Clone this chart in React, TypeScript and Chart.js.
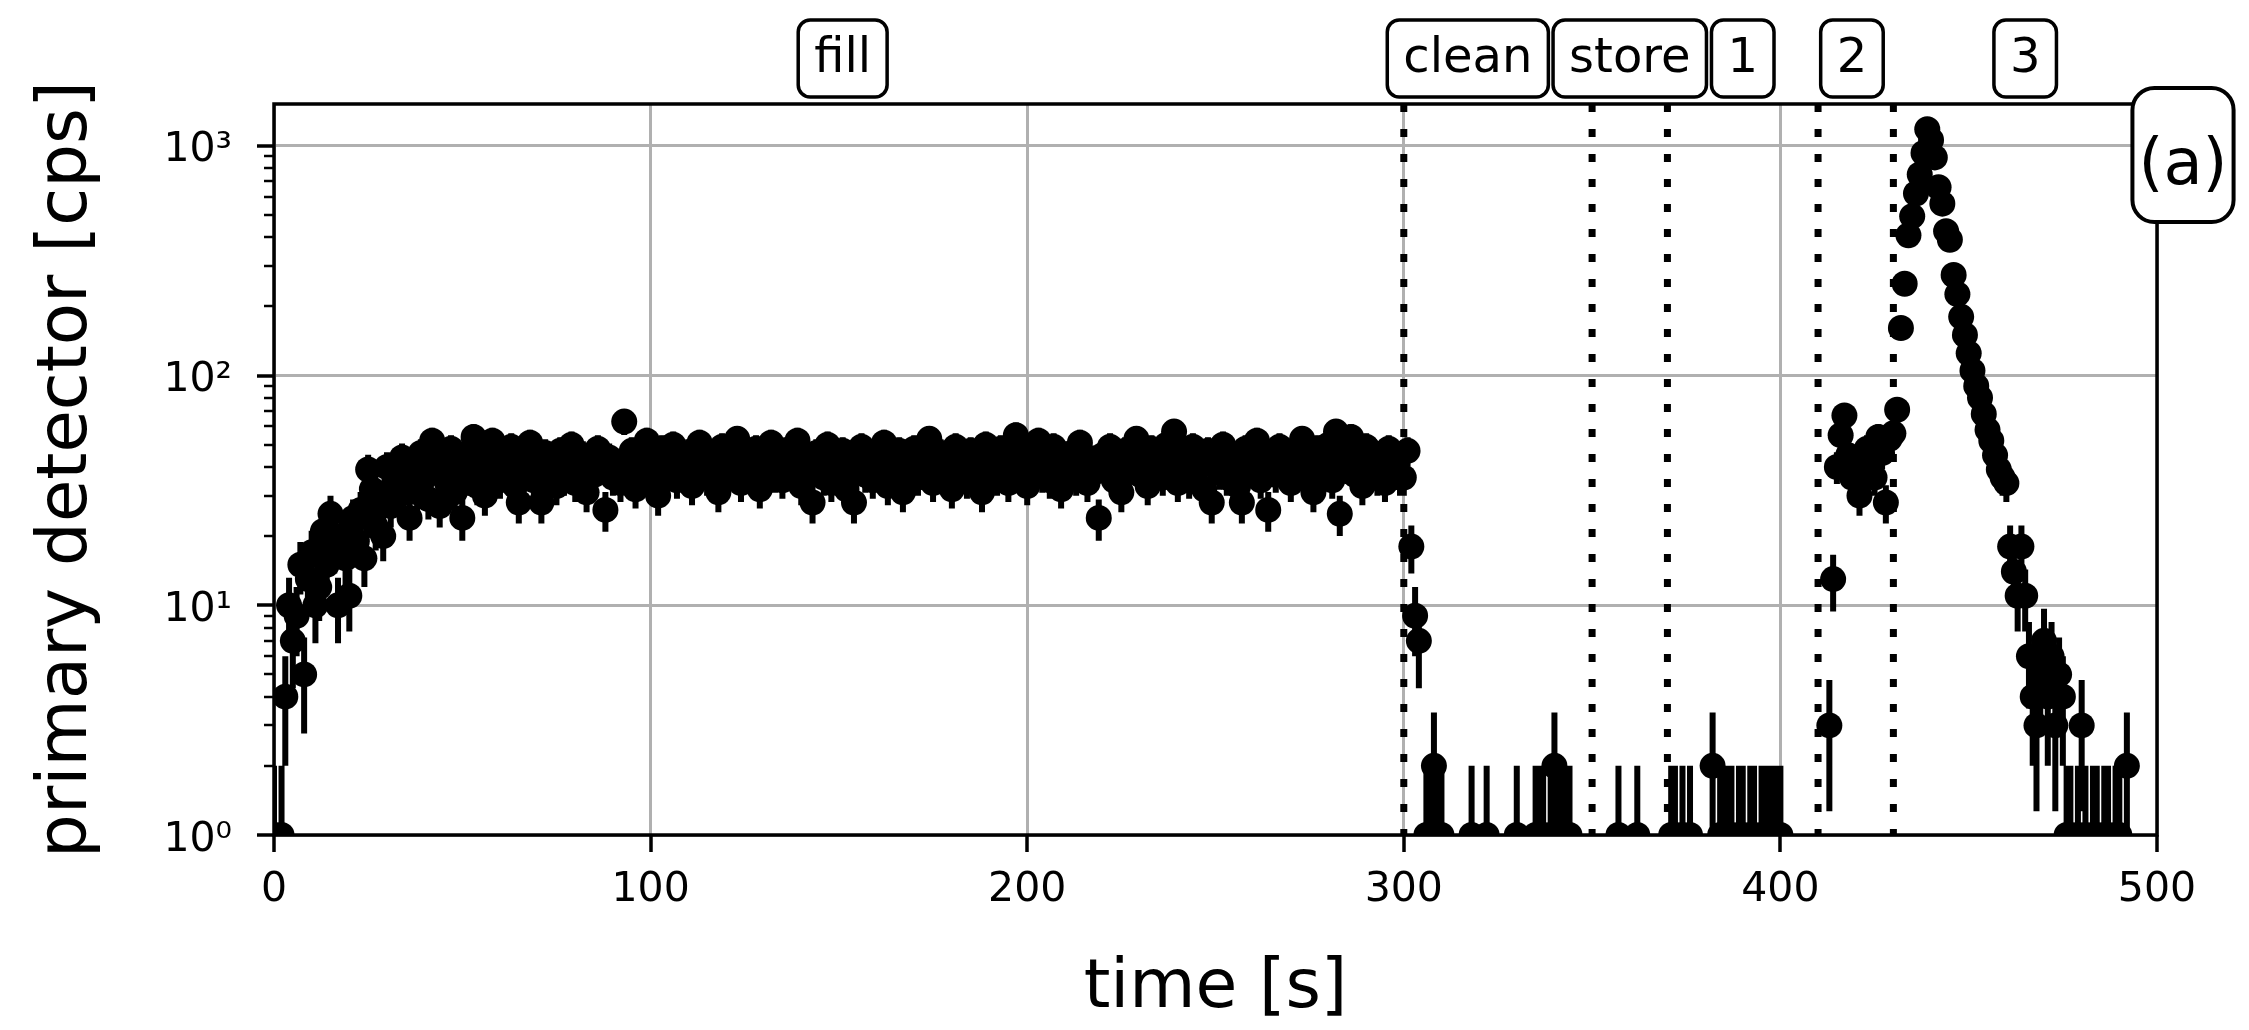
import React, { useEffect, useRef } from 'react';
import { Chart, registerables } from 'chart.js';

Chart.register(...registerables);

const FONT = "'DejaVu Sans', 'Liberation Sans', sans-serif";

// ---- data: counts per 1-s bin ----
const FILL_START = 0;
const FILL_COUNTS = [
  1, 0, 1, 4, 10, 7, 9, 15, 5, 13,
  17, 10, 12, 21, 15, 25, 18, 10, 20, 16,
  11, 24, 19, 26, 16, 39, 32, 22, 29, 20,
  40, 27, 35, 30, 44, 33, 24, 38, 31, 46,
  36, 29, 52, 40, 27, 43, 34, 48, 31, 39,
  24, 45, 36, 54, 33, 41, 30, 47, 52, 38,
  35, 42, 37, 49, 33, 28, 44, 39, 51, 35,
  40, 28, 46, 38, 42, 33, 47, 36, 41, 50,
  34, 39, 45, 31, 43, 37, 48, 40, 26, 44,
  36, 41, 34, 63, 38, 47, 32, 45, 39, 52,
  36, 43, 30, 48, 37, 41, 50, 35, 44, 39,
  46, 33, 42, 51, 38, 36, 45, 40, 31, 49,
  37, 43, 39, 53, 34, 46, 41, 36, 48, 32,
  44, 40, 51, 37, 43, 35, 47, 39, 42, 52,
  33, 45, 38, 28, 46, 41, 36, 50, 34, 43,
  39, 47, 32, 44, 28, 40, 49, 37, 42, 35,
  46, 39, 51, 33, 44, 38, 47, 31, 42, 40,
  48, 36, 45, 39, 53, 34, 41, 46, 37, 43,
  32, 49, 38, 42, 35, 47, 40, 44, 31, 50,
  39, 43, 36, 48, 41, 34, 46, 55, 38, 42,
  33, 47, 40, 52, 37, 44, 35, 49, 41, 32,
  45, 39, 46, 36, 51, 42, 34, 43, 38, 24,
  45, 40, 49, 35, 44, 31, 47, 39, 42, 53,
  37, 43, 33, 48, 40, 45, 36, 50, 38, 57,
  34, 46, 41, 35, 49, 39, 44, 32, 47, 28,
  42, 38, 50, 36, 45, 41, 33, 28, 48, 43,
  39, 52, 35, 46, 26, 42, 37, 49, 40, 44,
  34, 47, 39, 53, 36, 43, 31, 48, 41, 38,
  50, 35, 57, 25, 45, 40, 54, 37, 43, 33,
  49, 39, 46, 36, 42, 34, 48, 44, 38, 36,
];
const CLEAN_START = 300;
const CLEAN_COUNTS = [
  36, 47, 18, 9, 7, 0, 1, 1, 2, 1,
  1, 0, 0, 0, 0, 0, 0, 0, 1, 0,
  0, 0, 1, 0, 0, 0, 0, 0, 0, 0,
  1, 0, 0, 0, 0, 1, 1, 1, 0, 1,
  2, 1, 1, 1, 1, 0, 0, 0, 0, 0,
];
const STORE_START = 350;
const STORE_COUNTS = [
  0, 0, 0, 0, 0, 0, 0, 1, 0, 0,
  0, 0, 1, 0, 0, 0, 0, 0, 0, 0,
];
const PERIOD1_START = 370;
const PERIOD1_COUNTS = [
  0, 1, 1, 0, 1, 0, 1, 0, 0, 0,
  0, 0, 2, 0, 1, 1, 1, 1, 0, 1,
  1, 0, 1, 1, 0, 1, 1, 1, 1, 1,
  1, 0, 0, 0, 0, 0, 0, 0, 0, 0,
];
const PERIOD2_START = 410;
const PERIOD2_COUNTS = [
  0, 0, 0, 3, 13, 40, 55, 67, 45, 36,
  42, 30, 38, 48, 41, 36, 54, 46, 28, 53,
];
const PERIOD3_START = 430;
const PERIOD3_COUNTS = [
  56, 71, 161, 251, 408, 494, 620, 750, 930, 1180,
  1060, 890, 660, 560, 425, 390, 274, 226, 180, 150,
  125, 105, 90, 80, 68, 58, 52, 45, 39, 36,
  34, 18, 14, 11, 18, 11, 6, 4, 3, 5,
  7, 4, 6, 3, 5, 4, 1, 1, 0, 1,
  3, 1, 0, 1, 1, 0, 1, 1, 0, 1,
  1, 0, 2, 0, 0, 0, 0, 0, 0, 0,
];

const PHASE_BOUNDARIES = [300, 350, 370, 410, 430];
const PHASE_LABELS = ['fill', 'clean', 'store', '1', '2', '3'];
const PHASE_LABEL_X = [151, 317, 360, 390, 419, 465];
const PANEL_TAG = '(a)';

const X_TICKS = [0, 100, 200, 300, 400, 500];
const Y_MAJOR = [1, 10, 100, 1000];
const Y_MINOR = [2, 3, 4, 5, 6, 7, 8, 9, 20, 30, 40, 50, 60, 70, 80, 90, 200, 300, 400, 500, 600, 700, 800, 900];
const X_MIN = 0;
const X_MAX = 500;
const Y_MIN = 1;
const Y_MAX = 1520;

const X_TITLE = 'time [s]';
const Y_TITLE = 'primary detector [cps]';

const SUP: Record<string, string> = { '0': '⁰', '1': '¹', '2': '²', '3': '³', '4': '⁴', '-': '⁻' };

function buildPoints() {
  const phases = [
    { start: FILL_START, counts: FILL_COUNTS },
    { start: CLEAN_START, counts: CLEAN_COUNTS },
    { start: STORE_START, counts: STORE_COUNTS },
    { start: PERIOD1_START, counts: PERIOD1_COUNTS },
    { start: PERIOD2_START, counts: PERIOD2_COUNTS },
    { start: PERIOD3_START, counts: PERIOD3_COUNTS },
  ];
  const pts: { x: number; y: number }[] = [];
  phases.forEach((p) => p.counts.forEach((c, i) => { if (c > 0) pts.push({ x: p.start + i, y: c }); }));
  return pts;
}

function roundRectPath(ctx: CanvasRenderingContext2D, x: number, y: number, w: number, h: number, r: number) {
  ctx.beginPath();
  ctx.moveTo(x + r, y);
  ctx.lineTo(x + w - r, y);
  ctx.arcTo(x + w, y, x + w, y + r, r);
  ctx.lineTo(x + w, y + h - r);
  ctx.arcTo(x + w, y + h, x + w - r, y + h, r);
  ctx.lineTo(x + r, y + h);
  ctx.arcTo(x, y + h, x, y + h - r, r);
  ctx.lineTo(x, y + r);
  ctx.arcTo(x, y, x + r, y, r);
  ctx.closePath();
}

const overlayPlugin = {
  id: 'overlay',
  afterDraw(chart: any) {
    const { ctx, chartArea: a } = chart;
    const xs = chart.scales.x;
    const ys = chart.scales.y;
    ctx.save();
    ctx.strokeStyle = '#000';
    ctx.lineCap = 'butt';
    // tick marks
    ctx.lineWidth = 3.5;
    X_TICKS.forEach((v) => {
      const px = Math.round(xs.getPixelForValue(v));
      ctx.beginPath(); ctx.moveTo(px, a.bottom); ctx.lineTo(px, a.bottom + 17); ctx.stroke();
    });
    Y_MAJOR.forEach((v) => {
      const py = Math.round(ys.getPixelForValue(v));
      ctx.beginPath(); ctx.moveTo(a.left - 17, py); ctx.lineTo(a.left, py); ctx.stroke();
    });
    ctx.lineWidth = 2.5;
    Y_MINOR.forEach((v) => {
      if (v > Y_MAX) return;
      const py = Math.round(ys.getPixelForValue(v));
      ctx.beginPath(); ctx.moveTo(a.left - 10, py); ctx.lineTo(a.left, py); ctx.stroke();
    });
    // frame
    ctx.lineWidth = 3.5;
    ctx.strokeRect(a.left, a.top, a.right - a.left, a.bottom - a.top);
    // phase label boxes
    ctx.font = `48px ${FONT}`;
    ctx.textAlign = 'center';
    ctx.textBaseline = 'alphabetic';
    PHASE_LABELS.forEach((label, i) => {
      const cx = xs.getPixelForValue(PHASE_LABEL_X[i]);
      const w = ctx.measureText(label).width + 32;
      const top = a.top - 84;
      const h = 77;
      roundRectPath(ctx, cx - w / 2, top, w, h, 12);
      ctx.fillStyle = '#fff';
      ctx.fill();
      ctx.lineWidth = 3.5;
      ctx.stroke();
      ctx.fillStyle = '#000';
      ctx.fillText(label, cx, a.top - 32);
    });
    // panel tag
    ctx.font = `64px ${FONT}`;
    const tagW = ctx.measureText(PANEL_TAG).width + 12;
    const tcx = a.right + 26;
    roundRectPath(ctx, tcx - tagW / 2, a.top - 16, tagW, 134, 22);
    ctx.fillStyle = '#fff';
    ctx.fill();
    ctx.lineWidth = 4;
    ctx.stroke();
    ctx.fillStyle = '#000';
    ctx.fillText(PANEL_TAG, tcx, a.top + 80);
    ctx.restore();
  },
};

export default function App() {
  const canvasRef = useRef<HTMLCanvasElement | null>(null);

  useEffect(() => {
    document.body.style.margin = '0';
    const canvas = canvasRef.current;
    if (!canvas) return;
    const pts = buildPoints();
    const errSegs: { x: number; y: number | null }[] = [];
    pts.forEach((p) => {
      const e = Math.sqrt(p.y);
      errSegs.push({ x: p.x, y: Math.max(p.y - e, 0.5) });
      errSegs.push({ x: p.x, y: p.y + e });
      errSegs.push({ x: p.x, y: null });
    });
    const boundaryDatasets = PHASE_BOUNDARIES.map((b) => ({
      type: 'line' as const,
      data: [{ x: b, y: Y_MAX }, { x: b, y: Y_MIN }],
      borderColor: '#000',
      borderWidth: 7,
      borderDash: [8, 17],
      pointRadius: 0,
      clip: 0,
      order: 0,
    }));

    const chart = new Chart(canvas, {
      type: 'scatter',
      data: {
        datasets: [
          ...boundaryDatasets,
          {
            type: 'scatter',
            data: pts,
            backgroundColor: '#000',
            borderColor: '#000',
            pointRadius: 13,
            pointBorderWidth: 0,
            clip: 0,
            order: 1,
          } as any,
          {
            type: 'line',
            data: errSegs,
            borderColor: '#000',
            borderWidth: 6,
            pointRadius: 0,
            spanGaps: false,
            clip: 0,
            order: 2,
          } as any,
        ],
      },
      options: {
        animation: false,
        responsive: false,
        devicePixelRatio: 1,
        events: [],
        layout: { padding: { left: 0, right: 92, top: 104, bottom: 0 } },
        plugins: { legend: { display: false }, tooltip: { enabled: false } },
        scales: {
          x: {
            type: 'linear',
            min: X_MIN,
            max: X_MAX,
            ticks: {
              stepSize: 100,
              color: '#000',
              font: { family: FONT, size: 41 },
              padding: 31,
              maxRotation: 0,
            },
            grid: { color: '#b0b0b0', lineWidth: 3, drawTicks: false },
            border: { display: false },
            title: {
              display: true,
              text: X_TITLE,
              color: '#000',
              font: { family: FONT, size: 68 },
              padding: { top: 0, bottom: 0 },
            },
            afterFit: (s: any) => { s.height = 195; },
          },
          y: {
            type: 'logarithmic',
            min: Y_MIN,
            max: Y_MAX,
            ticks: {
              autoSkip: false,
              color: '#000',
              font: { family: FONT, size: 41 },
              padding: 42,
              labelOffset: 5,
              callback: (v: any) => {
                const val = Number(v);
                const e = Math.log10(val);
                if (Math.abs(e - Math.round(e)) < 1e-9 && val <= 1000) {
                  return '10' + String(Math.round(e)).split('').map((c) => SUP[c]).join('');
                }
                return '';
              },
            },
            grid: {
              color: (c: any) => {
                const val = c.tick ? c.tick.value : 0;
                const e = Math.log10(val);
                return Math.abs(e - Math.round(e)) < 1e-9 ? '#b0b0b0' : 'rgba(0,0,0,0)';
              },
              lineWidth: 3,
              drawTicks: false,
            },
            border: { display: false },
            title: {
              display: true,
              text: Y_TITLE,
              color: '#000',
              font: { family: FONT, size: 69 },
              padding: { top: 27, bottom: 0 },
            },
            afterFit: (s: any) => { s.width = 274; },
          },
        },
      } as any,
      plugins: [overlayPlugin],
    });
    return () => chart.destroy();
  }, []);

  return (
    <div style={{ position: 'absolute', left: 0, top: 0, width: 2249, height: 1030, background: '#fff' }}>
      <canvas ref={canvasRef} width={2249} height={1030} style={{ display: 'block' }} />
    </div>
  );
}
